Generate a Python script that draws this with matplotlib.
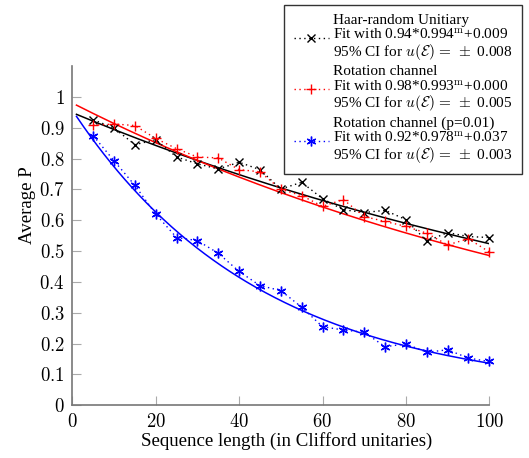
import numpy as np
import matplotlib
matplotlib.use("Agg")
import matplotlib.pyplot as plt

plt.rcParams['font.family'] = ['Liberation Serif', 'DejaVu Serif']
plt.rcParams['mathtext.fontset'] = 'cm'

# ---- data ----
m_vals = [5, 10, 15, 20, 25, 30, 35, 40, 45, 50, 55, 60, 65, 70, 75, 80, 85, 90, 95, 100]
haar = [0.926, 0.899, 0.845, 0.861, 0.805, 0.783, 0.766, 0.788, 0.764, 0.701,
        0.723, 0.670, 0.634, 0.625, 0.632, 0.602, 0.532, 0.560, 0.547, 0.544]
rot = [0.908, 0.912, 0.907, 0.865, 0.832, 0.805, 0.802, 0.764, 0.757, 0.700,
       0.680, 0.645, 0.667, 0.612, 0.596, 0.580, 0.558, 0.520, 0.540, 0.497]
rot_p = [0.874, 0.793, 0.713, 0.620, 0.544, 0.534, 0.493, 0.434, 0.388, 0.372,
         0.318, 0.255, 0.244, 0.237, 0.190, 0.199, 0.172, 0.180, 0.153, 0.142]

fit_haar = (0.94, 0.994, 0.009)
fit_rot = (0.98, 0.993, 0.000)
fit_rotp = (0.92, 0.978, 0.037)

labels = [
    "Haar-random Unitiary\nFit with 0.94*0.994$^{\\mathrm{m}}$+0.009\n95% CI for $u(\\mathcal{E})\\,=\\,\\pm$ 0.008",
    "Rotation channel\nFit with 0.98*0.993$^{\\mathrm{m}}$+0.000\n95% CI for $u(\\mathcal{E})\\,=\\,\\pm$ 0.005",
    "Rotation channel (p=0.01)\nFit with 0.92*0.978$^{\\mathrm{m}}$+0.037\n95% CI for $u(\\mathcal{E})\\,=\\,\\pm$ 0.003",
]

xticks = [0, 20, 40, 60, 80, 100]
yticks = [0, 0.1, 0.2, 0.3, 0.4, 0.5, 0.6, 0.7, 0.8, 0.9, 1]
ytick_labels = ["0", "0.1", "0.2", "0.3", "0.4", "0.5", "0.6", "0.7", "0.8", "0.9", "1"]

fig = plt.figure(figsize=(5.29, 4.58), dpi=100)
ax = fig.add_axes([72.3/529, 1-405.3/458, (489.3-72.3)/529, (405.3-66)/458])

mfine = np.linspace(1, 100, 300)
series = [
    (haar, fit_haar, 'black', 'x', 5.5),
    (rot, fit_rot, 'red', '+', 7),
    (rot_p, fit_rotp, 'blue', (6, 2, 0), 7),
]
handles = []
for data, (a, b, c), col, mk, ms in series:
    ax.plot(mfine, a * b ** mfine + c, color=col, lw=1.1, zorder=2)
    h, = ax.plot(m_vals, data, color=col, ls=(0, (1, 2.5)), lw=1.0, marker=mk,
                 ms=ms, mew=1.0, clip_on=False, zorder=3)
    handles.append(h)

ax.set_xlim(0, 100)
ax.set_ylim(0, 1.1)
ax.set_xticks(xticks)
ax.set_xticklabels(["$%d$" % v for v in xticks])
ax.set_yticks(yticks)
ax.set_yticklabels(["$%s$" % s for s in ytick_labels])
for s in ['top', 'right']:
    ax.spines[s].set_visible(False)
for s in ['left', 'bottom']:
    ax.spines[s].set_color('#777777')
    ax.spines[s].set_linewidth(1.2)
ax.tick_params(direction='in', length=6.5, width=0.8, color='#aaaaaa',
               labelsize=13.5, pad=5.5)
ax.set_xlabel("Sequence length (in Clifford unitaries)", fontsize=13.6)
ax.xaxis.label.set_va('center')
ax.xaxis.set_label_coords(0.515, (405.3 - 441) / 339.3)
ax.set_ylabel("Average P", fontsize=13.6)
ax.yaxis.label.set_va('center')
ax.yaxis.set_label_coords((28 - 72.3) / 417, (405.3 - 205) / 339.3)

leg = ax.legend(handles, labels, loc='upper right',
                bbox_to_anchor=(522/529, 1-5/458), bbox_transform=fig.transFigure,
                borderaxespad=0, fancybox=False, edgecolor='#333333',
                framealpha=1, fontsize=11, handlelength=2.35, handletextpad=0.25,
                labelspacing=0.22, borderpad=0.6, alignment='left')
leg.get_frame().set_linewidth(1.0)
for t in leg.get_texts():
    t.set_linespacing(1.0)

fig.savefig("out.png", dpi=100)
